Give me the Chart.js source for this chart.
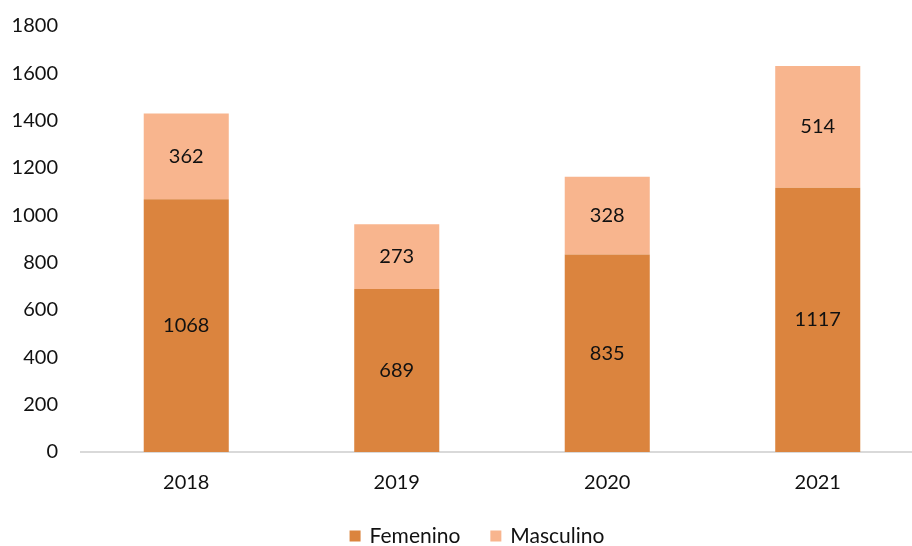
<!DOCTYPE html>
<html>
<head>
<meta charset="utf-8">
<script src="https://cdn.jsdelivr.net/npm/chart.js@4.4.1/dist/chart.umd.min.js"></script>
<style>
html,body{margin:0;padding:0;background:#fff;overflow:hidden;}
#wrap{position:relative;width:923px;height:546px;}
</style>
</head>
<body>
<div id="wrap"><canvas id="c" width="923" height="546"></canvas></div>
<script>
const categories = ['2018', '2019', '2020', '2021'];
const femenino = [1068, 689, 835, 1117];
const masculino = [362, 273, 328, 514];
const yTicks = [0, 200, 400, 600, 800, 1000, 1200, 1400, 1600, 1800];
const seriesNames = ['Femenino', 'Masculino'];
const seriesColors = ['#DB843E', '#F8B58E'];

const FONT = 'Lato, "Open Sans", sans-serif';

const valueLabels = {
  id: 'valueLabels',
  afterDatasetsDraw(chart) {
    const ctx = chart.ctx;
    ctx.save();
    ctx.font = '20px ' + FONT;
    ctx.fillStyle = '#111';
    ctx.textAlign = 'center';
    ctx.textBaseline = 'middle';
    chart.data.datasets.forEach((ds, di) => {
      const meta = chart.getDatasetMeta(di);
      meta.data.forEach((bar, i) => {
        const p = bar.getProps(['x', 'y', 'base'], true);
        ctx.fillText(String(ds.data[i]), p.x, (p.y + p.base) / 2);
      });
    });
    ctx.restore();
  }
};

const customLegend = {
  id: 'customLegend',
  afterDraw(chart) {
    const ctx = chart.ctx;
    ctx.save();
    ctx.font = '21px ' + FONT;
    ctx.textBaseline = 'middle';
    const box = 11, gapText = 9, gapItem = 30;
    const widths = seriesNames.map(n => box + gapText + ctx.measureText(n).width);
    const total = widths.reduce((a, b) => a + b, 0) + gapItem * (widths.length - 1);
    let x = 477 - total / 2;
    const yc = 536;
    seriesNames.forEach((n, i) => {
      ctx.fillStyle = seriesColors[i];
      ctx.fillRect(x, yc - box / 2, box, box);
      ctx.fillStyle = '#111';
      ctx.fillText(n, x + box + gapText, yc);
      x += widths[i] + gapItem;
    });
    ctx.restore();
  }
};

new Chart(document.getElementById('c'), {
  type: 'bar',
  data: {
    labels: categories,
    datasets: [
      { label: seriesNames[0], data: femenino, backgroundColor: seriesColors[0], borderWidth: 0 },
      { label: seriesNames[1], data: masculino, backgroundColor: seriesColors[1], borderWidth: 0 }
    ]
  },
  options: {
    responsive: false,
    animation: false,
    events: [],
    layout: { padding: { top: 26, right: 0, bottom: 40, left: 0 } },
    datasets: { bar: { categoryPercentage: 1, barPercentage: 0.404 } },
    plugins: { legend: { display: false }, tooltip: { enabled: false } },
    scales: {
      x: {
        stacked: true,
        grid: { display: false, drawTicks: false },
        border: { display: true, color: '#D9D9D9', width: 2 },
        ticks: { color: '#111', font: { family: FONT, size: 20 }, padding: 19 },
        afterFit(s) { s.height = 54; s.paddingLeft = 0; s.paddingRight = 0; }
      },
      y: {
        stacked: true,
        min: 0, max: 1800,
        afterBuildTicks(s) { s.ticks = yTicks.map(v => ({ value: v })); },
        grid: { display: false, drawTicks: false },
        border: { display: false },
        ticks: { color: '#111', font: { family: FONT, size: 20 }, padding: 23, callback: v => String(v) },
        afterFit(s) { s.width = 81; s.paddingTop = 0; s.paddingBottom = 0; }
      }
    }
  },
  plugins: [valueLabels, customLegend]
});
</script>
</body>
</html>
